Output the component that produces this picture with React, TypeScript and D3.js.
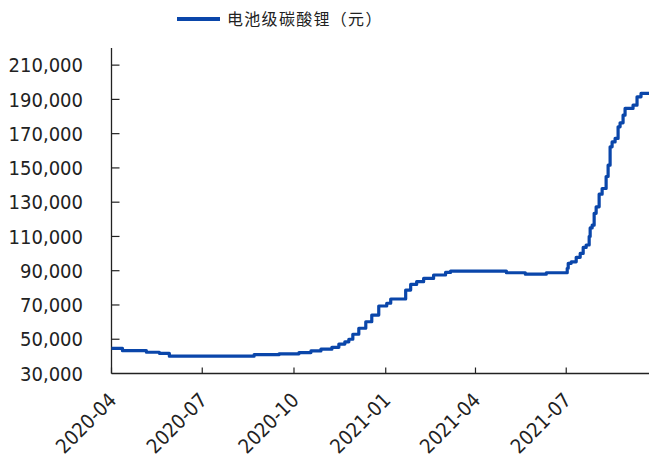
import React from "react";
import * as d3 from "d3";

const seriesName = "电池级碳酸锂（元）";

const dates = [
  "2020-04-01", "2020-04-12", "2020-05-06", "2020-05-19", "2020-05-29",
  "2020-08-22", "2020-09-16", "2020-10-06", "2020-10-18", "2020-10-28",
  "2020-11-08", "2020-11-15", "2020-11-21", "2020-11-25", "2020-11-29",
  "2020-12-05", "2020-12-12", "2020-12-18", "2020-12-25", "2021-01-02",
  "2021-01-06", "2021-01-21", "2021-01-26", "2021-02-01", "2021-02-08",
  "2021-02-18", "2021-03-02", "2021-03-07", "2021-05-02", "2021-05-21",
  "2021-06-11", "2021-07-02", "2021-07-03", "2021-07-06", "2021-07-11",
  "2021-07-15", "2021-07-18", "2021-07-21", "2021-07-24", "2021-07-25",
  "2021-07-27", "2021-07-29", "2021-07-31", "2021-08-03", "2021-08-06",
  "2021-08-10", "2021-08-12", "2021-08-14", "2021-08-16", "2021-08-19",
  "2021-08-22", "2021-08-24", "2021-08-27", "2021-08-29", "2021-09-06",
  "2021-09-10", "2021-09-14", "2021-09-22",
];

const values = [
  44700, 43300, 42400, 41800, 40100,
  41000, 41500, 42200, 43200, 44200,
  45300, 47200, 48500, 50000, 52900,
  56400, 60200, 64100, 69400, 71000,
  73500, 78700, 82000, 83600, 85500,
  87500, 89000, 89800, 88800, 88000,
  88800, 91400, 94300, 95200, 97800,
  100100, 103600, 105000, 110000, 115000,
  116600, 123500, 127300, 134700, 138000,
  145000, 151600, 162300, 165200, 167200,
  174000, 176300, 180800, 184700, 186600,
  191500, 193500, 193500,
];

const yTicks = [30000, 50000, 70000, 90000, 110000, 130000, 150000, 170000, 190000, 210000];
const xTickLabels = ["2020-04", "2020-07", "2020-10", "2021-01", "2021-04", "2021-07"];

const W = 649;
const H = 459;
const left = 111.5;
const right = 649;
const top = 48;
const bottom = 373.5;
const lineColor = "#0a46aa";
const textColor = "#222";
const axisColor = "#222";
const numFont = "'DejaVu Sans Condensed', 'DejaVu Sans', sans-serif";

export default function App() {
  const parse = d3.timeParse("%Y-%m-%d");
  const parseM = d3.timeParse("%Y-%m");
  const data = dates.map((d, i) => ({ date: parse(d) as Date, value: values[i] }));

  const x = d3
    .scaleTime()
    .domain([parse("2020-04-01") as Date, parse("2021-09-22") as Date])
    .range([left, right]);
  const y = d3.scaleLinear().domain([30000, 220000]).range([bottom, top]);

  const line = d3
    .line<{ date: Date; value: number }>()
    .x((d) => x(d.date))
    .y((d) => y(d.value))
    .curve(d3.curveStepAfter);

  const fmt = d3.format(",");

  return (
    <svg
      width={W}
      height={H}
      style={{ position: "absolute", left: 0, top: 0, background: "#fff" }}
    >
      {/* legend */}
      <line x1={177} x2={220} y1={19} y2={19} stroke={lineColor} strokeWidth={4} />
      <text
        x={227}
        y={19}
        dy="0.36em"
        fontSize={16}
        letterSpacing={1.3}
        fill={textColor}
        fontFamily="'Noto Sans CJK SC', sans-serif"
      >
        {seriesName}
      </text>

      {/* y axis */}
      <line x1={left} x2={left} y1={top} y2={bottom} stroke={axisColor} strokeWidth={1.3} />
      {yTicks.map((t) => (
        <g key={t}>
          {t !== 30000 && (
            <line x1={left} x2={left + 8} y1={y(t)} y2={y(t)} stroke={axisColor} strokeWidth={1.2} />
          )}
          <text
            x={83}
            y={y(t)}
            dy="0.36em"
            textAnchor="end"
            fontSize={20}
            fill={textColor}
            fontFamily={numFont}
          >
            {fmt(t)}
          </text>
        </g>
      ))}

      {/* x axis */}
      <line x1={left} x2={right} y1={bottom} y2={bottom} stroke={axisColor} strokeWidth={1.3} />
      {xTickLabels.map((lab) => {
        const xv = x(parseM(lab) as Date);
        return (
          <g key={lab}>
            <line x1={xv} x2={xv} y1={bottom} y2={bottom - 6} stroke={axisColor} strokeWidth={1.2} />
            <text
              transform={`translate(${xv + 6},${bottom + 28}) rotate(-45)`}
              textAnchor="end"
              fontSize={20}
              fill={textColor}
              fontFamily={numFont}
            >
              {lab}
            </text>
          </g>
        );
      })}

      {/* series */}
      <path d={line(data) || ""} fill="none" stroke={lineColor} strokeWidth={3.2} strokeLinejoin="round" />
    </svg>
  );
}
